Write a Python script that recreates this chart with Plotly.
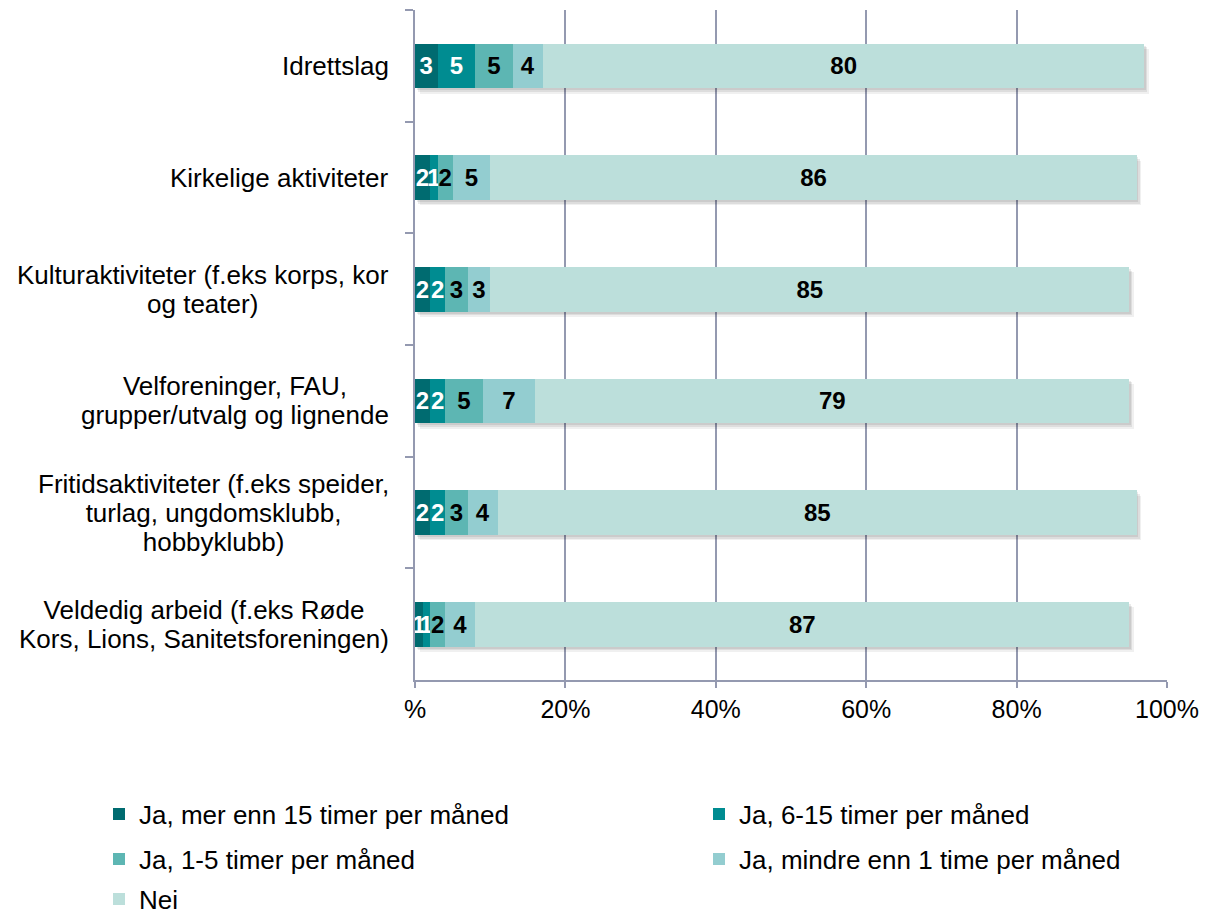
import plotly.graph_objects as go

categories = [
    "Idrettslag",
    "Kirkelige aktiviteter",
    "Kulturaktiviteter (f.eks korps, kor<br>og teater)",
    "Velforeninger, FAU,<br>grupper/utvalg og lignende",
    "Fritidsaktiviteter (f.eks speider,<br>turlag, ungdomsklubb,<br>hobbyklubb)",
    "Veldedig arbeid (f.eks Røde<br>Kors, Lions, Sanitetsforeningen)",
]
series_names = [
    "Ja, mer enn 15 timer per måned",
    "Ja, 6-15 timer per måned",
    "Ja, 1-5 timer per måned",
    "Ja, mindre enn 1 time per måned",
    "Nei",
]
mer15 = [3, 2, 2, 2, 2, 1]
t6_15 = [5, 1, 2, 2, 2, 1]
t1_5 = [5, 2, 3, 5, 3, 2]
under1 = [4, 5, 3, 7, 4, 4]
nei = [80, 86, 85, 79, 85, 87]
series_values = [mer15, t6_15, t1_5, under1, nei]
colors = ["#006B70", "#008C91", "#5DB6B3", "#93CDD0", "#BCDFDB"]
text_colors = ["white", "white", "black", "black", "black"]
tick_vals = [0, 20, 40, 60, 80, 100]
tick_text = ["%", "20%", "40%", "60%", "80%", "100%"]

FONT = "Liberation Sans, Arial, sans-serif"
AXIS_COLOR = "#9499B0"
fig = go.Figure()

# soft drop shadow behind each stacked bar (drawn on the base y axis)
totals = [sum(v) for v in zip(*series_values)]
for k, (dx, alpha) in enumerate([(0.6, 0.06), (0.4, 0.08), (0.2, 0.08)]):
    fig.add_trace(go.Bar(
        y=categories, x=totals, base=dx, orientation="h",
        width=0.4, offset=-0.2 + 0.05 - k * 0.015,
        marker=dict(color=f"rgba(0,0,0,{alpha})", line=dict(width=0)),
        showlegend=False, hoverinfo="skip", yaxis="y",
    ))

legend_ids = ["legend", "legend2", "legend3", "legend4", "legend5"]
for i, (name, vals) in enumerate(zip(series_names, series_values)):
    fig.add_trace(go.Bar(
        y=categories, x=vals, name=name, orientation="h", yaxis="y2",
        marker=dict(color=colors[i], line=dict(width=0)),
        text=[str(v) for v in vals], textposition="inside",
        insidetextanchor="middle", constraintext="none",
        textfont=dict(family=FONT, size=24, color=text_colors[i], weight="bold"),
        legend=legend_ids[i], hoverinfo="x+name",
    ))

# category labels: centred multi-line text, right edge next to the axis
for cat in categories:
    lines = cat.split("<br>")
    txt = "<br>".join(f'<span style="font-size:26px">{ln}</span>' for ln in lines)
    fig.add_annotation(
        x=0, xref="paper", xshift=-24, y=cat, yref="y",
        text=txt, showarrow=False, xanchor="right", yanchor="middle",
        align="center", font=dict(family=FONT, size=22.3, color="black"),
    )

leg_pos = [(99, 814), (699, 814), (99, 859), (699, 859), (99, 899)]
layout_legends = {}
for lid, (lx, ly) in zip(legend_ids, leg_pos):
    layout_legends[lid] = dict(
        xref="container", yref="container", x=lx / 1213, y=1 - ly / 915,
        xanchor="left", yanchor="middle", orientation="h",
        font=dict(family=FONT, size=26, color="black"), bgcolor="rgba(0,0,0,0)",
        itemwidth=30,
    )

fig.update_layout(
    width=1213, height=915, barmode="stack", bargap=0.6, showlegend=True,
    plot_bgcolor="white", paper_bgcolor="white",
    margin=dict(l=415, r=46, t=10, b=235, autoexpand=False),
    font=dict(family=FONT, size=26, color="black"),
    xaxis=dict(range=[0, 100], tickvals=tick_vals, ticktext=tick_text,
               showgrid=True, gridcolor=AXIS_COLOR, gridwidth=1.5,
               showline=True, linecolor=AXIS_COLOR, linewidth=1.5,
               ticks="outside", ticklen=6, tickcolor=AXIS_COLOR, tickwidth=1.5,
               tickfont=dict(size=25), zeroline=False, automargin=False),
    yaxis=dict(type="category", autorange="reversed", tickson="boundaries",
               categoryorder="array", categoryarray=categories,
               ticks="outside", ticklen=8, tickcolor=AXIS_COLOR, tickwidth=1.5,
               showline=True, linecolor=AXIS_COLOR, linewidth=1.5,
               showgrid=False, showticklabels=False, automargin=False),
    yaxis2=dict(type="category", autorange="reversed", overlaying="y",
                categoryorder="array", categoryarray=categories,
                visible=False, anchor="x", automargin=False),
    **layout_legends,
)
fig.write_html("out.html", config={"displayModeBar": False},
               post_script="document.body.style.margin='0px';")
